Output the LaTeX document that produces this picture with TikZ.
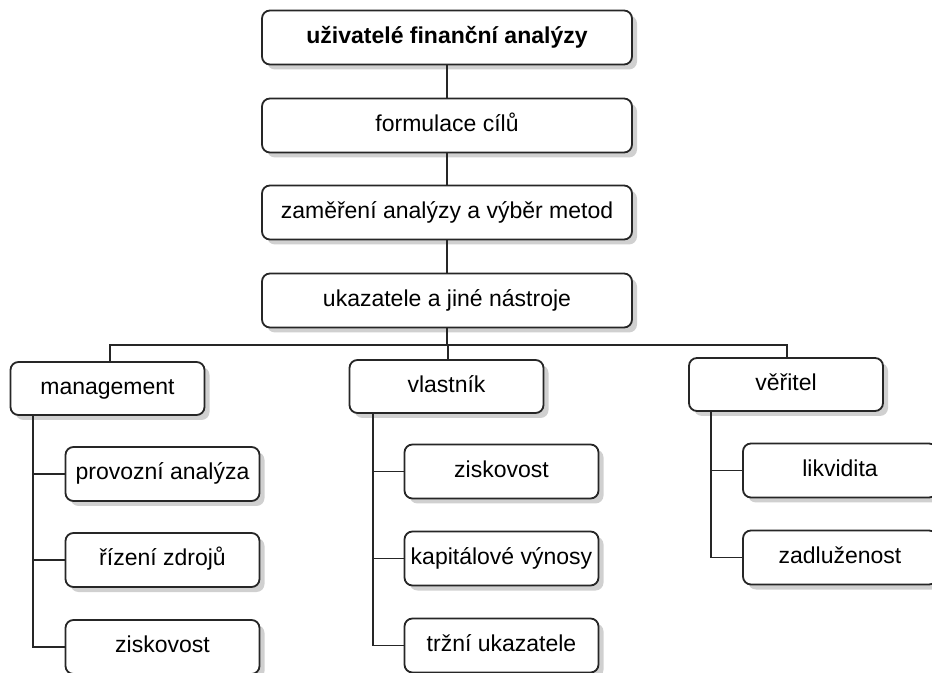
\documentclass[tikz,border=0pt]{standalone}
\usepackage{fontspec}
\setmainfont{Liberation Sans}
\usetikzlibrary{shadows,positioning}
\begin{document}
\begin{tikzpicture}[x=0.5pt,y=-0.5pt,
  box/.style={draw=black!85, line width=0.9pt, rounded corners=4pt, fill=white,
    inner sep=0pt, text height=8.3pt, text depth=2.4pt, font=\fontsize{11.5}{13}\selectfont,
    drop shadow={shadow xshift=2.5pt, shadow yshift=-2.5pt, opacity=0.3, fill=black!60}},
  wide/.style={box, minimum width=185pt, minimum height=27pt},
  mid/.style={box, minimum width=97pt, minimum height=26.5pt},
  sub/.style={box, minimum width=97pt, minimum height=27pt},
  conn/.style={draw=black!85, line width=0.8pt}]
\clip (0,0) rectangle (932,673);
\fill[white] (0,0) rectangle (932,673);
% top chain
\node[wide, font=\fontsize{11.5}{13}\selectfont\bfseries] (u) at (447,37.5) {uživatelé finanční analýzy};
\node[wide] (f) at (447,125.5) {formulace cílů};
\node[wide] (z) at (447,212.5) {zaměření analýzy a výběr metod};
\node[wide] (k) at (447,300.5) {ukazatele a jiné nástroje};
% second level
\node[mid] (m) at (107.5,388.5) {management};
\node[mid] (v) at (446.5,386.5) {vlastník};
\node[mid] (r) at (786,384.5) {věřitel};
% management children
\node[sub] (m1) at (162.5,474) {provozní analýza};
\node[sub] (m2) at (162.5,560) {řízení zdrojů};
\node[sub] (m3) at (162.5,647) {ziskovost};
% vlastnik children
\node[sub] (v1) at (501.5,471.5) {ziskovost};
\node[sub] (v2) at (501.5,558.5) {kapitálové výnosy};
\node[sub] (v3) at (501.5,645.5) {tržní ukazatele};
% veritel children
\node[sub] (r1) at (840,470.5) {likvidita};
\node[sub] (r2) at (840,557.5) {zadluženost};
% bus
\coordinate (bus) at (447,345);
\coordinate (mb) at (110,345);
\coordinate (rb) at (787,345);
\coordinate (vb) at (448,345);
\draw[conn] (u.south) -- (f.north);
\draw[conn] (f.south) -- (z.north);
\draw[conn] (z.south) -- (k.north);
\draw[conn] (k.south) -- (bus);
\draw[conn] (m.north -| mb) -- (mb) -- (rb) -- (r.north -| rb);
\draw[conn] (vb) -- (v.north -| vb);
% management tree
\coordinate (mt) at (33,415);
\draw[conn] (m.south -| mt) -- (mt |- m3.west) -- (m3.west);
\draw[conn] (mt |- m1.west) -- (m1.west);
\draw[conn] (mt |- m2.west) -- (m2.west);
% vlastnik tree
\coordinate (vt) at (373,413);
\draw[conn] (v.south -| vt) -- (vt |- v3.west) -- (v3.west);
\draw[conn] (vt |- v1.west) -- (v1.west);
\draw[conn] (vt |- v2.west) -- (v2.west);
% veritel tree
\coordinate (rt) at (711,411);
\draw[conn] (r.south -| rt) -- (rt |- r2.west) -- (r2.west);
\draw[conn] (rt |- r1.west) -- (r1.west);
\end{tikzpicture}
\end{document}
